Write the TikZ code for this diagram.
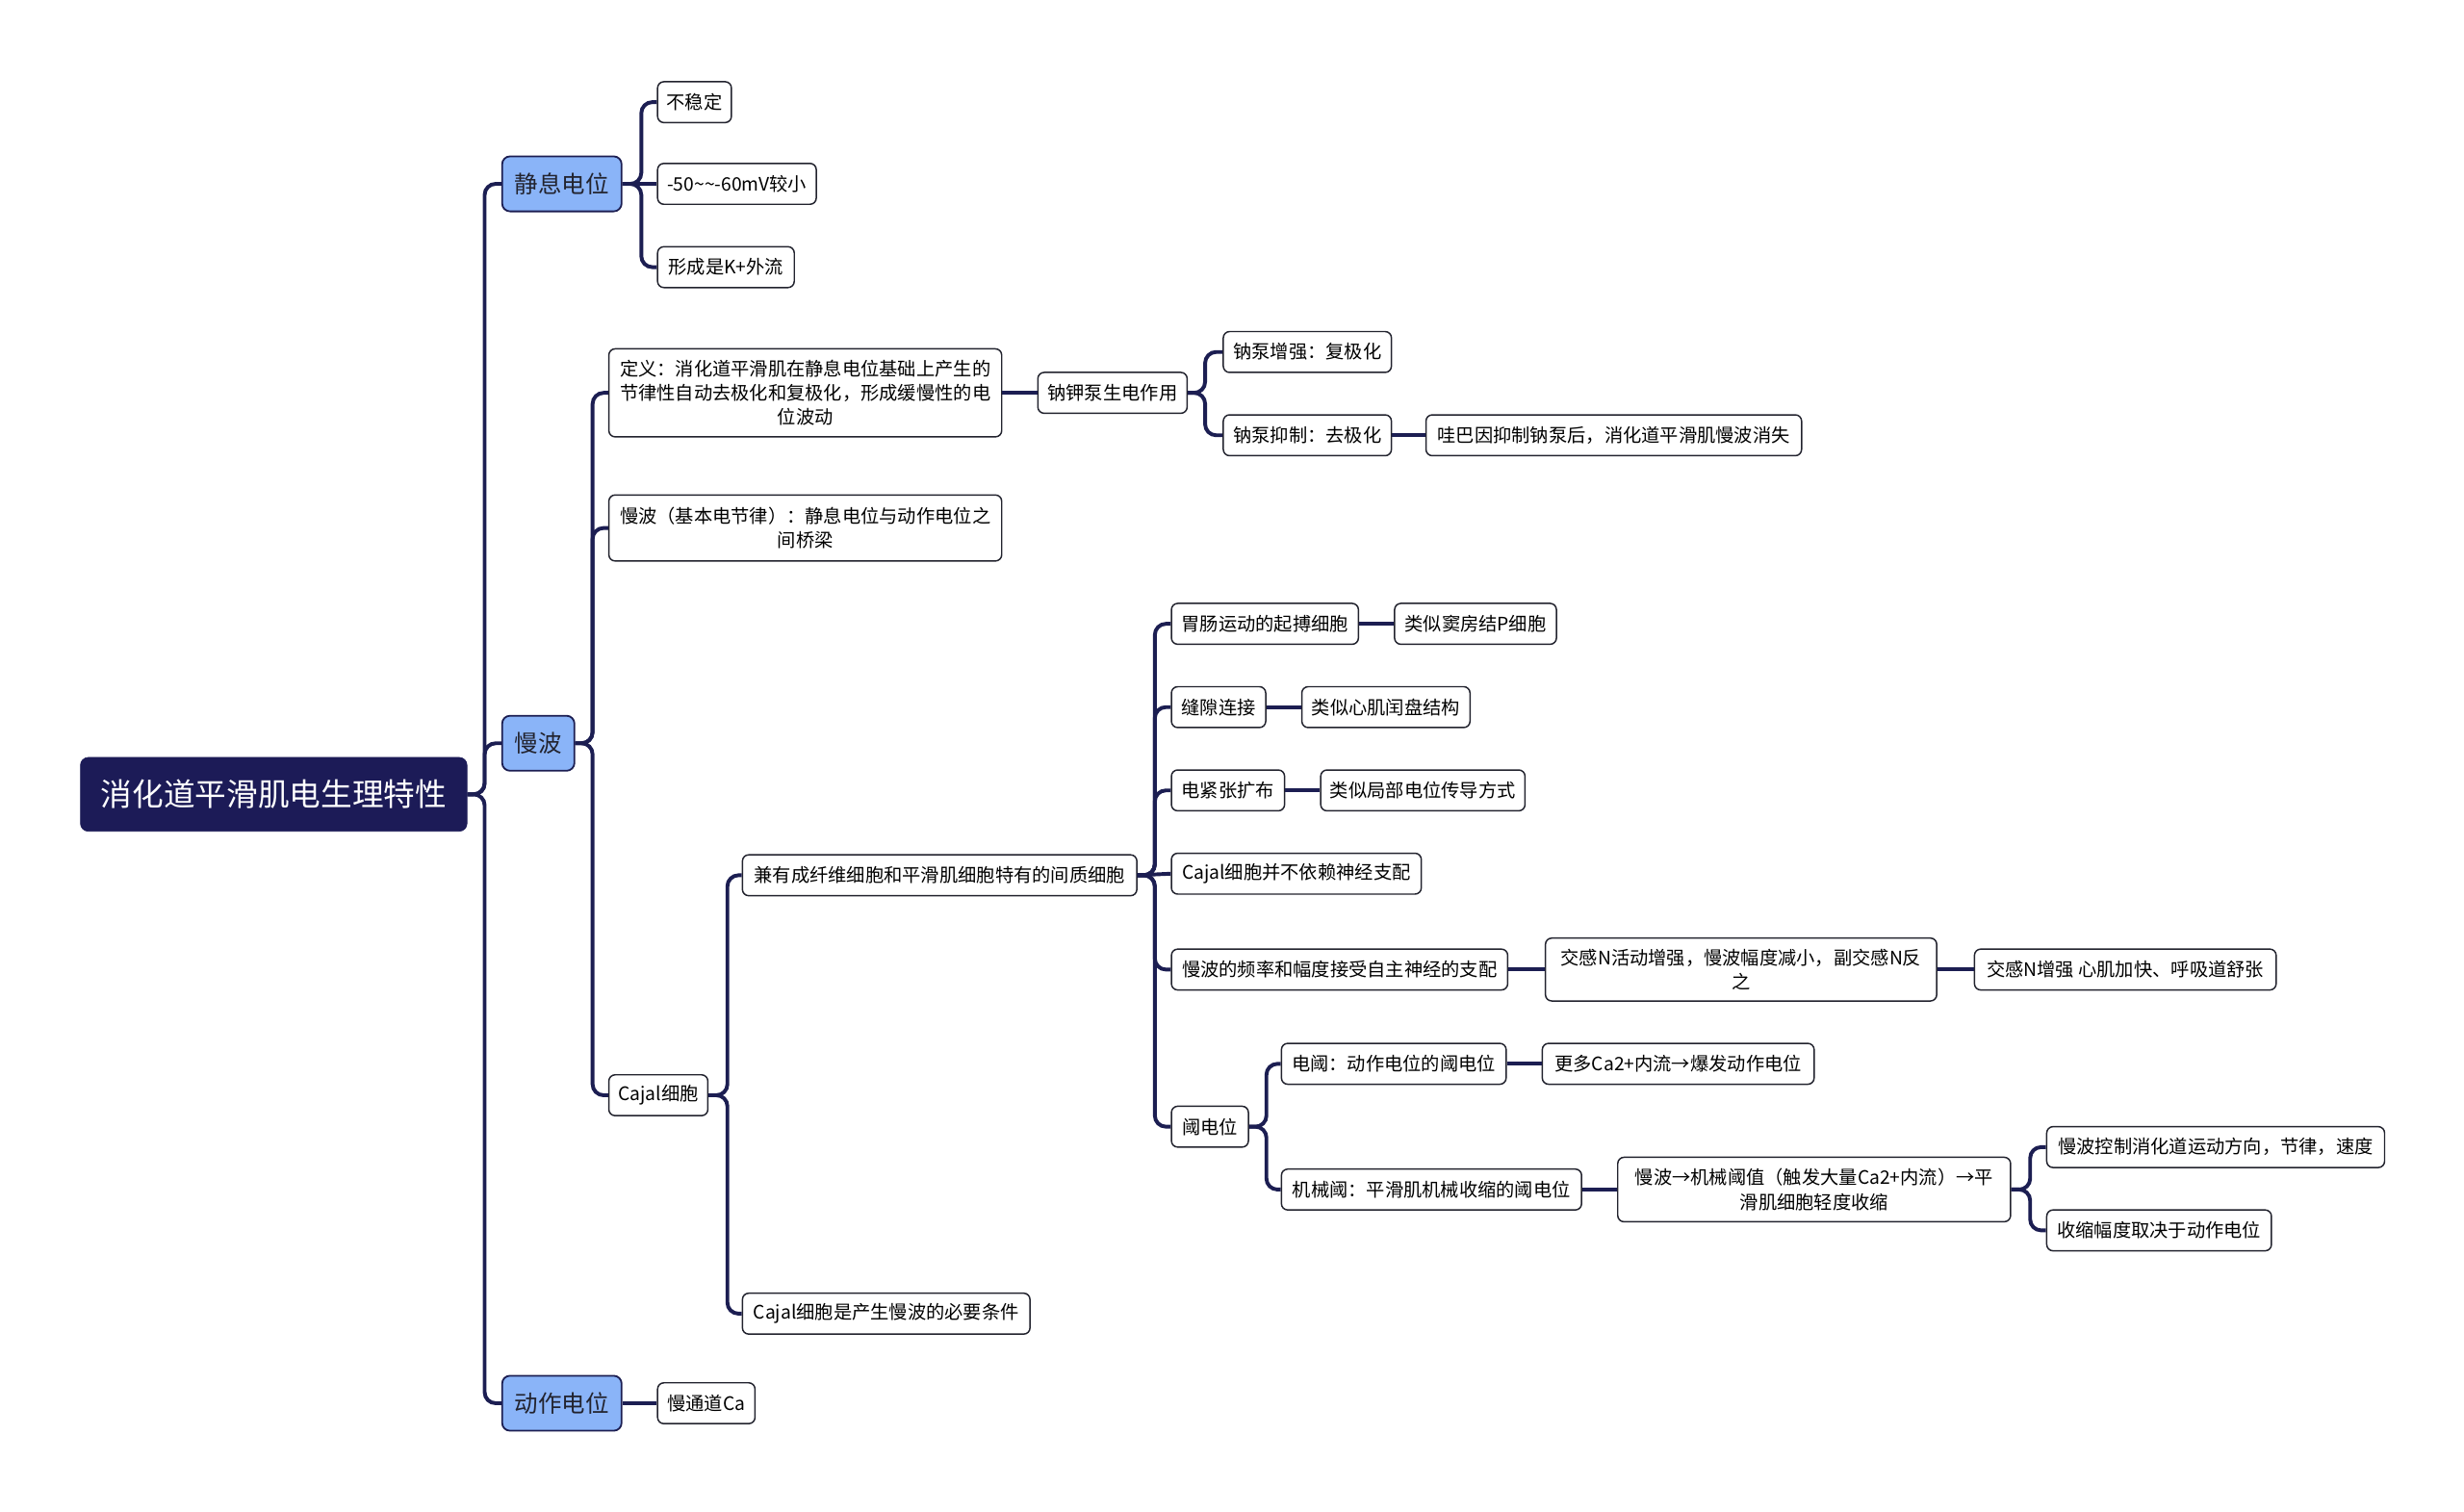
\documentclass[tikz,border=0pt]{standalone}
\usepackage{fontspec}
\setmainfont{Noto Sans CJK SC}
\definecolor{navy}{HTML}{1C1E52}
\definecolor{rootc}{HTML}{1C1B57}
\definecolor{blueone}{HTML}{8AB4F8}
\definecolor{edgec}{HTML}{22232E}
\newcommand\brx[3]{\draw[link] (#1.east) -- ++(#3,0) |- (#2.west);}
\newcommand\stx[2]{\draw[link] (#1.east) -- (#2.west);}
\begin{document}
\begin{tikzpicture}[x=1pt,y=-1pt,
  link/.style={draw=navy,line width=2.4pt,rounded corners=7pt},
  leaf/.style={draw=edgec,line width=0.9pt,rounded corners=4pt,fill=white,anchor=west,
    inner xsep=3pt,inner ysep=0pt,minimum height=26pt,text=black,
    font=\fontsize{11.8}{15.5}\selectfont},
  multi/.style={leaf,align=center},
  topic/.style={draw=navy,line width=1.1pt,rounded corners=5pt,fill=blueone,anchor=west,
    inner xsep=4pt,inner ysep=0pt,minimum height=35pt,text=edgec,
    font=\fontsize{15}{18}\selectfont},
  rootst/.style={draw=rootc,fill=rootc,rounded corners=5pt,anchor=west,text=white,
    inner xsep=6pt,minimum height=47pt,font=\fontsize{20}{24}\selectfont}]
\useasboundingbox (0,0) rectangle (1568,962.2);
\fill[white] (0,0) rectangle (1568,962.2);

% root and topics
\node[rootst,minimum width=246pt] (root) at (51,505.5) {消化道平滑肌电生理特性};
\node[topic,minimum width=76pt] (jx) at (319,117) {静息电位};
\node[topic,minimum width=46pt] (mb) at (319,473) {慢波};
\node[topic,minimum width=76pt] (dz) at (319,893) {动作电位};

% 静息电位
\node[leaf,minimum width=47pt] (a1) at (418,65) {不稳定};
\node[leaf,minimum width=101pt] (a2) at (418,117) {-50\char"7E\char"7E-60mV较小};
\node[leaf,minimum width=87pt] (a3) at (418,170) {形成是K+外流};

% 慢波
\node[multi,minimum width=250pt,text width=244pt,minimum height=56pt] (b1) at (387,250)
  {定义：消化道平滑肌在静息电位基础上产生的\\节律性自动去极化和复极化，形成缓慢性的电\\位波动};
\node[multi,minimum width=250pt,text width=244pt,minimum height=42pt] (b2) at (387,336)
  {慢波（基本电节律）：静息电位与动作电位之\\间桥梁};
\node[leaf,minimum width=63pt] (b3) at (387,697) {Cajal细胞};

\node[leaf,minimum width=95pt] (c1) at (660,250) {钠钾泵生电作用};
\node[leaf,minimum width=107pt] (c11) at (778,224) {钠泵增强：复极化};
\node[leaf,minimum width=107pt] (c12) at (778,277) {钠泵抑制：去极化};
\node[leaf,minimum width=239pt] (c121) at (907,277) {哇巴因抑制钠泵后，消化道平滑肌慢波消失};

% Cajal
\node[leaf,minimum width=251pt] (d1) at (472,557) {兼有成纤维细胞和平滑肌细胞特有的间质细胞};
\node[leaf,minimum width=183pt] (d2) at (472,836) {Cajal细胞是产生慢波的必要条件};

\node[leaf,minimum width=119pt] (e1) at (745,397) {胃肠运动的起搏细胞};
\node[leaf,minimum width=103pt] (e1a) at (887,397) {类似窦房结P细胞};
\node[leaf,minimum width=60pt] (e2) at (745,450) {缝隙连接};
\node[leaf,minimum width=107pt] (e2a) at (828,450) {类似心肌闰盘结构};
\node[leaf,minimum width=72pt] (e3) at (745,503) {电紧张扩布};
\node[leaf,minimum width=130pt] (e3a) at (840,503) {类似局部电位传导方式};
\node[leaf,minimum width=159pt] (e4) at (745,556) {Cajal细胞并不依赖神经支配};
\node[leaf,minimum width=214pt] (e5) at (745,617) {慢波的频率和幅度接受自主神经的支配};
\node[multi,minimum width=249pt,text width=243pt,minimum height=40pt] (e5a) at (983,617)
  {交感N活动增强，慢波幅度减小，副交感N反\\之};
\node[leaf,minimum width=192pt] (e5b) at (1256,617) {交感N增强 心肌加快、呼吸道舒张};
\node[leaf,minimum width=49pt] (e6) at (745,717) {阈电位};

\node[leaf,minimum width=143pt] (f1) at (815,677) {电阈：动作电位的阈电位};
\node[leaf,minimum width=173pt] (f1a) at (981,677) {更多Ca2+内流→爆发动作电位};
\node[leaf,minimum width=191pt] (f2) at (815,757) {机械阈：平滑肌机械收缩的阈电位};
\node[multi,minimum width=250pt,text width=244pt,minimum height=41pt] (f2a) at (1029,757)
  {慢波→机械阈值（触发大量Ca2+内流）→平\\滑肌细胞轻度收缩};
\node[leaf,minimum width=215pt] (g1) at (1302,730) {慢波控制消化道运动方向，节律，速度};
\node[leaf,minimum width=143pt] (g2) at (1302,783) {收缩幅度取决于动作电位};

% 动作电位
\node[leaf,minimum width=62pt] (h1) at (418,893) {慢通道Ca};

% connectors
\brx{root}{jx}{11}
\brx{root}{mb}{11}
\brx{root}{dz}{11}
\brx{jx}{a1}{12}
\stx{jx}{a2}
\brx{jx}{a3}{12}
\brx{mb}{b1}{11}
\brx{mb}{b2}{11}
\brx{mb}{b3}{11}
\stx{b1}{c1}
\brx{c1}{c11}{11}
\brx{c1}{c12}{11}
\stx{c12}{c121}
\brx{b3}{d1}{12}
\brx{b3}{d2}{12}
\brx{d1}{e1}{11}
\brx{d1}{e2}{11}
\brx{d1}{e3}{11}
\stx{d1}{e4}
\brx{d1}{e5}{11}
\brx{d1}{e6}{11}
\stx{e1}{e1a}
\stx{e2}{e2a}
\stx{e3}{e3a}
\stx{e5}{e5a}
\stx{e5a}{e5b}
\brx{e6}{f1}{11}
\brx{e6}{f2}{11}
\stx{f1}{f1a}
\stx{f2}{f2a}
\brx{f2a}{g1}{12}
\brx{f2a}{g2}{12}
\stx{dz}{h1}
\end{tikzpicture}
\end{document}
